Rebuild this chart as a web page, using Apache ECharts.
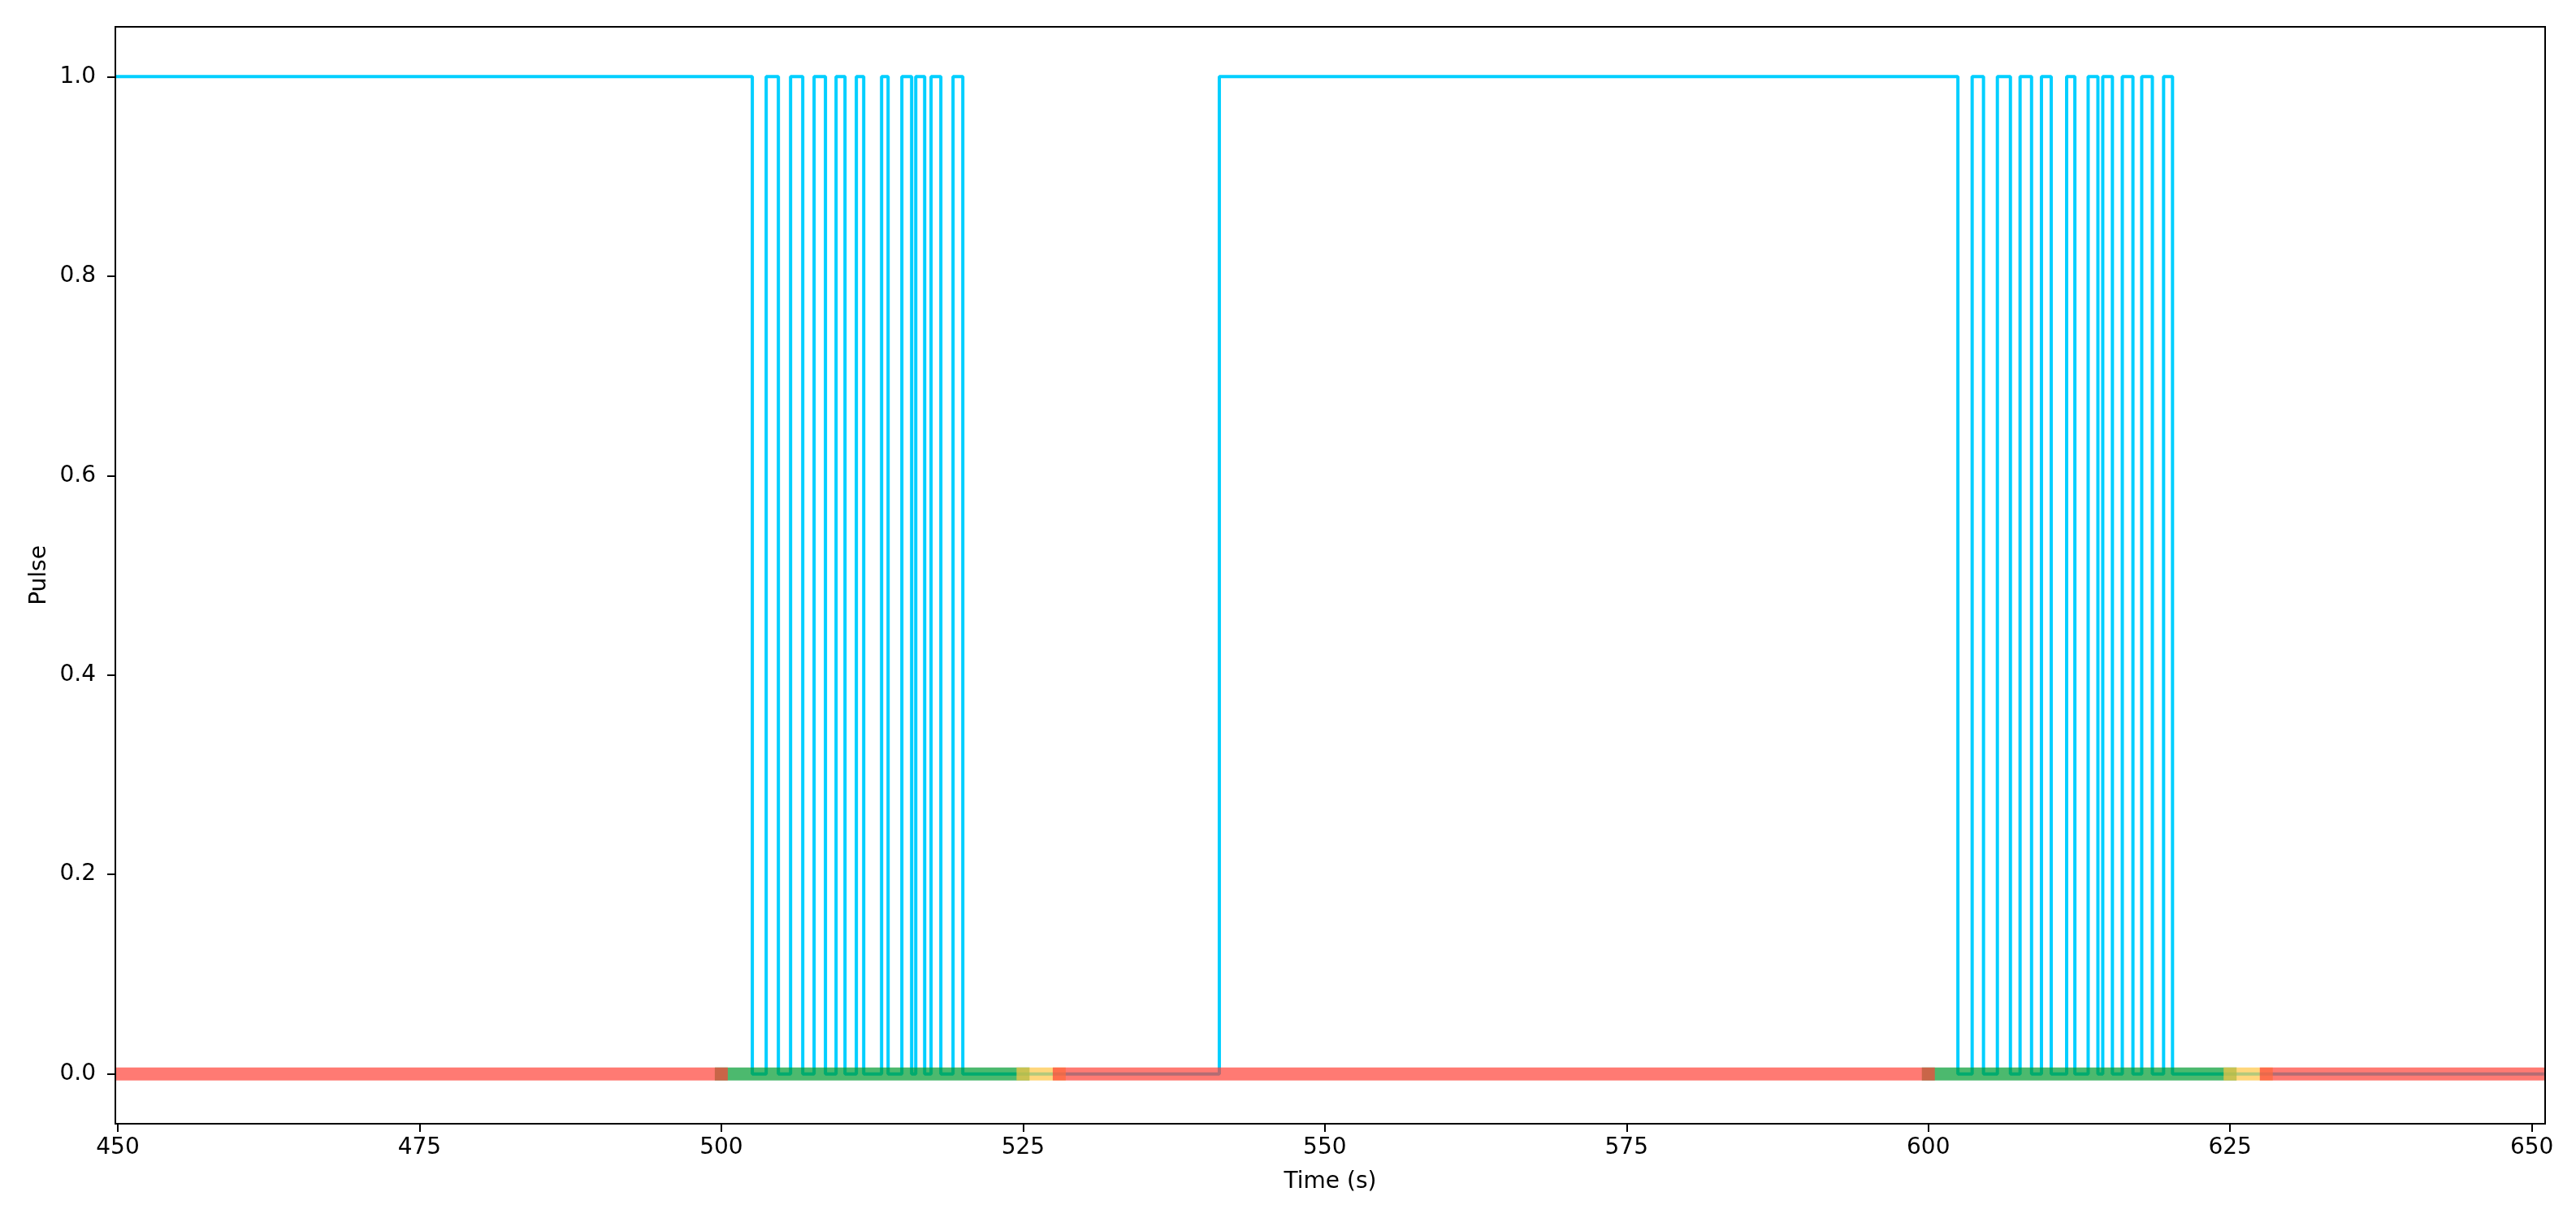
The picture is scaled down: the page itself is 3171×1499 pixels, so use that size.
<!DOCTYPE html>
<html>
<head>
<meta charset="utf-8">
<script src="https://cdn.jsdelivr.net/npm/echarts@6/dist/echarts.min.js"></script>
<style>
html,body{margin:0;padding:0;background:#fff;}
#chart{width:3171px;height:1499px;}
</style>
</head>
<body>
<div id="chart"></div>
<script>
// Pulse step signal: times of each level change and the level held from that time on
const stepTimes = [449.8, 502.57,
  503.72, 504.73, 505.74, 506.75, 507.69, 508.63, 509.51, 510.25, 511.19, 511.80,
  513.28, 513.82, 514.96, 515.77, 516.11, 516.85, 517.38, 518.19, 519.20, 520.01,
  541.26, 602.45,
  603.63, 604.57, 605.72, 606.80, 607.60, 608.55, 609.37, 610.18, 611.46, 612.14,
  613.24, 614.05, 614.45, 615.25, 616.07, 616.95, 617.68, 618.56, 619.49, 620.23,
  651.1];
const stepValues = [1, 0,
  1, 0, 1, 0, 1, 0, 1, 0, 1, 0,
  1, 0, 1, 0, 1, 0, 1, 0, 1, 0,
  1, 0,
  1, 0, 1, 0, 1, 0, 1, 0, 1, 0,
  1, 0, 1, 0, 1, 0, 1, 0, 1, 0,
  0];

// Phase band along y = 0
const phaseStarts = [449.8, 500, 525, 528, 600, 625, 628];
const phaseEnds   = [500, 525, 528, 600, 625, 628, 651.1];
const phaseKinds  = ['red', 'green', 'yellow', 'red', 'green', 'yellow', 'red'];
const phaseLevel = 0;

const xTicks = [450, 475, 500, 525, 550, 575, 600, 625, 650];
const yTicks = [0, 0.2, 0.4, 0.6, 0.8, 1.0];
const xRange = [449.8, 651.1];
const yRange = [-0.05, 1.05];

const phaseColors = {
  red: 'rgba(255,66,55,0.7)',
  green: 'rgba(0,155,48,0.7)',
  yellow: 'rgba(255,198,69,0.7)'
};
const phaseZ = { green: 3, yellow: 4, red: 5 };

const FONT = 'DejaVu Sans';
const GRID = { left: 142, top: 33, right: 38, bottom: 116 };
const W = 3171, H = 1499;

const series = [];
series.push({
  type: 'line',
  name: 'Pulse',
  step: 'end',
  showSymbol: false,
  z: 2,
  data: stepTimes.map((t, i) => [t, stepValues[i]]),
  lineStyle: { color: '#00CFFF', width: 4 }
});
phaseStarts.forEach((s, i) => {
  series.push({
    type: 'line',
    showSymbol: false,
    z: phaseZ[phaseKinds[i]],
    data: [[s, phaseLevel], [phaseEnds[i], phaseLevel]],
    lineStyle: { color: phaseColors[phaseKinds[i]], width: 16, cap: 'square' }
  });
});

const chart = echarts.init(document.getElementById('chart'), null, { renderer: 'canvas' });
chart.setOption({
  animation: false,
  backgroundColor: '#fff',
  grid: Object.assign({ show: true, borderColor: '#000', borderWidth: 2, backgroundColor: 'transparent', z: 10 }, GRID),
  // white masks just outside the plot frame so thick strokes stay inside it
  graphic: [
    { type: 'rect', z: 8, silent: true,
      shape: { x: GRID.left - 30, y: GRID.top, width: 29, height: H - GRID.top - GRID.bottom },
      style: { fill: '#fff' } },
    { type: 'rect', z: 8, silent: true,
      shape: { x: W - GRID.right + 1, y: GRID.top, width: 30, height: H - GRID.top - GRID.bottom },
      style: { fill: '#fff' } }
  ],
  xAxis: {
    type: 'value', min: xRange[0], max: xRange[1], z: 10,
    name: 'Time (s)', nameLocation: 'middle', nameGap: 58,
    nameTextStyle: { fontFamily: FONT, fontSize: 28, color: '#000' },
    splitLine: { show: false },
    axisLine: { show: true, onZero: false, lineStyle: { color: '#000', width: 2 } },
    axisTick: { show: true, length: 10, lineStyle: { color: '#000', width: 2 }, customValues: xTicks },
    axisLabel: { customValues: xTicks, margin: 16, fontFamily: FONT, fontSize: 28, color: '#000',
      formatter: v => String(v) }
  },
  yAxis: {
    type: 'value', min: yRange[0], max: yRange[1], z: 10,
    name: 'Pulse', nameLocation: 'middle', nameGap: 73, nameRotate: 90,
    nameTextStyle: { fontFamily: FONT, fontSize: 28, color: '#000' },
    splitLine: { show: false },
    axisLine: { show: true, onZero: false, lineStyle: { color: '#000', width: 2 } },
    axisTick: { show: true, length: 10, lineStyle: { color: '#000', width: 2 }, customValues: yTicks },
    axisLabel: { customValues: yTicks, margin: 24, fontFamily: FONT, fontSize: 28, color: '#000',
      formatter: v => Number(v).toFixed(1) }
  },
  series: series
});
</script>
</body>
</html>
